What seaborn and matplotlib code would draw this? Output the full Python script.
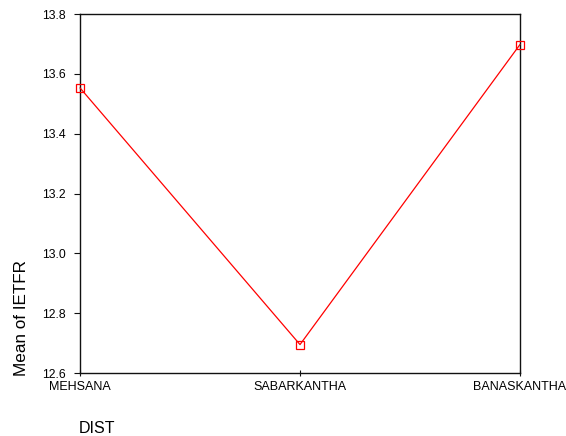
import matplotlib
matplotlib.use("Agg")
import matplotlib.pyplot as plt
import seaborn as sns
import pandas as pd
import numpy as np

# District means of IETFR
districts = ["MEHSANA", "SABARKANTHA", "BANASKANTHA"]
mean_ietfr = [13.553, 12.695, 13.698]
y_ticks = [12.6, 12.8, 13.0, 13.2, 13.4, 13.6, 13.8]

sns.set_theme(style="white")
plt.rcParams["font.family"] = ["Liberation Sans", "DejaVu Sans"]
plt.rcParams["text.color"] = "black"
plt.rcParams["xtick.color"] = "black"
plt.rcParams["ytick.color"] = "black"

df = pd.DataFrame({"DIST": districts, "Mean of IETFR": mean_ietfr})

fig = plt.figure(figsize=(5.66, 4.36), dpi=100)
ax = fig.add_axes([80 / 566, 1 - 373 / 436, 440 / 566, 359 / 436])

sns.lineplot(
    data=df, x="DIST", y="Mean of IETFR", sort=False, ax=ax,
    color="#ff0000", linewidth=0.9, marker="s", markersize=5.5,
    markerfacecolor="none", markeredgecolor="#ff0000", markeredgewidth=0.9,
    clip_on=False, zorder=5,
)

ax.set_xlim(0, len(districts) - 1)
ax.set_ylim(y_ticks[0], y_ticks[-1])
ax.set_yticks(y_ticks)
ax.set_yticklabels([f"{t:.1f}" for t in y_ticks], fontsize=8.8)
ax.set_xticks(range(len(districts)))
ax.set_xticklabels(districts, fontsize=9)

for s in ax.spines.values():
    s.set_visible(True)
    s.set_color("#111111")
    s.set_linewidth(1.0)

ax.tick_params(axis="y", direction="out", length=4, width=0.8, color="#111111",
               labelcolor="black", pad=6, left=True)
ax.tick_params(axis="x", direction="inout", length=5, width=0.8, color="#111111",
               labelcolor="black", pad=3, bottom=True)

ax.set_xlabel("")
ax.set_ylabel("")
fig.text(22 / 566, 1 - 318 / 436, "Mean of IETFR", rotation=90, fontsize=12.3,
         ha="center", va="center", color="black")
fig.text(79 / 566, 1 - 428 / 436, "DIST", fontsize=11.5, ha="left", va="center",
         color="black")

fig.savefig("out.png", dpi=100)
